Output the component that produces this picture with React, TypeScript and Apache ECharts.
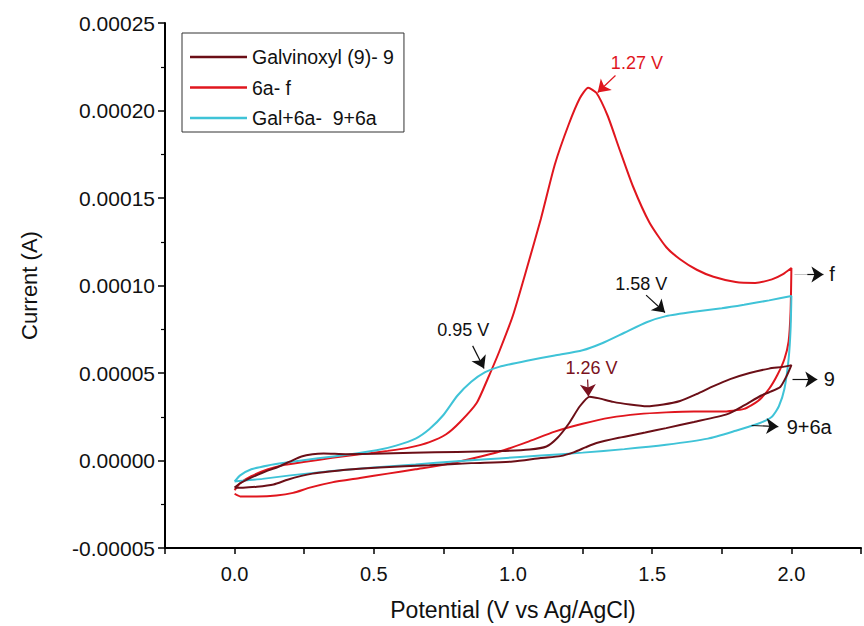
import React, { useEffect, useRef } from 'react';
import * as echarts from 'echarts';

// ---------- Data ----------
const seriesNames = ['Galvinoxyl (9)- 9', '6a- f', 'Gal+6a-  9+6a'];

// Galvinoxyl (9): forward scan 0 -> 2.0 V, then reverse 2.0 -> 0 V
const galPotential = [
  0.0, 0.02, 0.05, 0.1, 0.16, 0.2, 0.24, 0.28, 0.32, 0.4, 0.5, 0.64, 0.8, 0.95, 1.06, 1.12, 1.16, 1.2, 1.24, 1.275,
  1.31, 1.36, 1.42, 1.48, 1.54, 1.6, 1.66, 1.72, 1.78, 1.85, 1.92, 1.97, 2.0,
  1.985, 1.96, 1.92, 1.89, 1.83, 1.77, 1.65, 1.55, 1.475, 1.38, 1.3, 1.26, 1.22, 1.17, 1.1, 1.0, 0.85, 0.7, 0.52,
  0.4, 0.34, 0.28, 0.24, 0.19, 0.14, 0.08, 0.03, 0.0,
];
const galCurrent = [
  -1.55e-5, -1.3e-5, -1.05e-5, -7e-6, -3.4e-6, -5e-7, 2.3e-6, 3.6e-6, 4e-6, 3.6e-6, 3.8e-6, 4.4e-6, 4.9e-6, 5.4e-6, 6.3e-6, 8e-6, 1.3e-5, 2.1e-5, 3.1e-5, 3.65e-5,
  3.55e-5, 3.35e-5, 3.2e-5, 3.1e-5, 3.2e-5, 3.4e-5, 3.8e-5, 4.25e-5, 4.65e-5, 5.0e-5, 5.25e-5, 5.35e-5, 5.45e-5,
  4.9e-5, 4.2e-5, 3.9e-5, 3.7e-5, 3.15e-5, 2.65e-5, 2.2e-5, 1.85e-5, 1.6e-5, 1.3e-5, 1.0e-5, 7.5e-6, 4.8e-6, 2.5e-6, 1.4e-6, -6e-7, -1.5e-6, -2.7e-6, -4e-6,
  -5.3e-6, -6.3e-6, -7.5e-6, -8.8e-6, -1.1e-5, -1.37e-5, -1.5e-5, -1.55e-5, -1.55e-5,
];

// 6a: forward then reverse
const sixAPotential = [
  0.0, 0.02, 0.06, 0.12, 0.18, 0.26, 0.35, 0.45, 0.55, 0.63, 0.7, 0.76, 0.81, 0.87, 0.91, 0.95, 1.0, 1.05, 1.1, 1.15,
  1.2, 1.24, 1.27, 1.3, 1.34, 1.38, 1.43, 1.49, 1.55, 1.6, 1.66, 1.72, 1.8, 1.87, 1.93, 1.97, 2.0,
  1.997, 1.99, 1.975, 1.95, 1.92, 1.88, 1.83, 1.75, 1.65, 1.55, 1.45, 1.35, 1.25, 1.15, 1.05, 0.95, 0.85, 0.75, 0.65,
  0.55, 0.45, 0.35, 0.27, 0.21, 0.15, 0.08, 0.02, 0.0,
];
const sixACurrent = [
  -1.7e-5, -1.3e-5, -9e-6, -5e-6, -2.5e-6, -6e-7, 1.5e-6, 3.5e-6, 5.5e-6, 7.5e-6, 1.05e-5, 1.5e-5, 2.2e-5, 3.3e-5, 4.7e-5, 6.2e-5, 8.3e-5, 1.1e-4, 1.38e-4, 1.69e-4,
  1.92e-4, 2.07e-4, 2.13e-4, 2.1e-4, 1.97e-4, 1.79e-4, 1.57e-4, 1.36e-4, 1.22e-4, 1.15e-4, 1.09e-4, 1.05e-4, 1.02e-4, 1.015e-4, 1.035e-4, 1.065e-4, 1.1e-4,
  8.5e-5, 6.8e-5, 5.8e-5, 4.9e-5, 4.1e-5, 3.4e-5, 2.95e-5, 2.8e-5, 2.8e-5, 2.75e-5, 2.65e-5, 2.45e-5, 2.1e-5, 1.65e-5, 1.05e-5, 5e-6, 1e-6, -2.5e-6, -5e-6,
  -7.5e-6, -1e-5, -1.25e-5, -1.55e-5, -1.85e-5, -2.0e-5, -2.05e-5, -2.05e-5, -1.9e-5,
];

// Gal + 6a: forward then reverse
const mixPotential = [
  0.0, 0.02, 0.06, 0.12, 0.18, 0.3, 0.41, 0.51, 0.58, 0.65, 0.7, 0.75, 0.8, 0.85, 0.9, 0.95, 1.05, 1.15, 1.25, 1.32,
  1.4, 1.48, 1.55, 1.65, 1.75, 1.83, 1.92, 2.0,
  1.997, 1.99, 1.975, 1.955, 1.93, 1.88, 1.8, 1.7, 1.55, 1.4, 1.25, 1.1, 0.95, 0.8, 0.65, 0.5, 0.35, 0.2, 0.1, 0.03, 0.0,
];
const mixCurrent = [
  -1.2e-5, -8.5e-6, -5e-6, -2.8e-6, -1.3e-6, 1.3e-6, 3.4e-6, 5.8e-6, 8.5e-6, 1.25e-5, 1.8e-5, 2.6e-5, 3.7e-5, 4.5e-5, 5.05e-5, 5.35e-5, 5.7e-5, 6.0e-5, 6.3e-5, 6.7e-5,
  7.3e-5, 7.9e-5, 8.25e-5, 8.5e-5, 8.7e-5, 8.9e-5, 9.15e-5, 9.4e-5,
  7.5e-5, 5.8e-5, 4.1e-5, 3.1e-5, 2.5e-5, 2.1e-5, 1.7e-5, 1.25e-5, 9e-6, 6.5e-6, 4.5e-6, 2.8e-6, 1.2e-6, -4e-7, -2.3e-6, -4e-6, -6e-6, -8.5e-6, -1.05e-5, -1.15e-5, -1.2e-5,
];

// Annotations (data coordinates)
const annotationTexts = ['1.27 V', '1.26 V', '0.95 V', '1.58 V', 'f', '9', '9+6a'];
const annotationPoints = [
  [1.445, 2.274e-4], [1.282, 5.26e-5], [0.821, 7.43e-5], [1.461, 1.011e-4],
  [2.146, 1.063e-4], [2.136, 4.63e-5], [2.064, 1.94e-5],
];
const annotationKinds = ['red', 'dark', 'black', 'black', 'black', 'black', 'black'];
const arrowSegments = [
  [[1.368, 2.2e-4], [1.304, 2.103e-4]],
  [[1.268, 4.63e-5], [1.271, 3.66e-5]],
  [[0.855, 6.55e-5], [0.896, 5.26e-5]],
  [[1.478, 9.45e-5], [1.546, 8.46e-5]],
  [[2.057, 1.063e-4], [2.115, 1.063e-4]],
  [[2.004, 4.63e-5], [2.093, 4.63e-5]],
  [[1.857, 2.0e-5], [1.953, 1.94e-5]],
];
const arrowKinds = ['red', 'dark', 'black', 'black', 'black', 'black', 'black'];
const connectorSegments = [[[2.011, 1.063e-4], [2.057, 1.063e-4]]];

const xTickLabels = ['0.0', '0.5', '1.0', '1.5', '2.0'];

// ---------- Styling ----------
const FONT = "'Liberation Sans', Arial, Helvetica, sans-serif";
const COLORS = ['#6b0f17', '#e0161e', '#3fc3d7'];
const KIND_COLOR: Record<string, string> = { red: '#e0161e', dark: '#7a1220', black: '#111111' };

const pairs = (xs: number[], ys: number[]) => xs.map((x, i) => [x, ys[i]]);

export default function App() {
  const ref = useRef<HTMLDivElement>(null);

  useEffect(() => {
    if (!ref.current) return;
    const chart = echarts.init(ref.current, undefined, { renderer: 'svg' });

    const curves = [
      pairs(galPotential, galCurrent),
      pairs(sixAPotential, sixACurrent),
      pairs(mixPotential, mixCurrent),
    ];

    const option: any = {
      animation: false,
      backgroundColor: '#ffffff',
      grid: { left: 165, top: 23, right: -3, bottom: 78, containLabel: false },
      legend: {
        data: seriesNames.map((n) => ({ name: n, icon: 'rect' })),
        orient: 'vertical',
        left: 182,
        top: 33,
        padding: [14, 10, 4, 8],
        itemWidth: 57,
        itemHeight: 2.5,
        itemGap: 10.5,
        borderColor: '#333',
        borderWidth: 1,
        textStyle: { fontSize: 19.5, fontFamily: FONT, color: '#111', lineHeight: 20, padding: [0, 0, 0, 0] },
      },
      xAxis: {
        type: 'value',
        min: -0.25,
        max: 2.25,
        interval: 0.25,
        name: 'Potential (V vs Ag/AgCl)',
        nameLocation: 'middle',
        nameGap: 50,
        nameTextStyle: { fontSize: 23, fontFamily: FONT, color: '#111' },
        axisLine: { show: true, onZero: false, lineStyle: { color: '#000', width: 2 } },
        axisTick: { show: true, inside: false, length: 6, lineStyle: { color: '#000', width: 1.5 } },
        axisLabel: {
          margin: 16,
          fontSize: 20,
          fontFamily: FONT,
          color: '#111',
          showMinLabel: true,
          showMaxLabel: true,
          formatter: (v: number) => {
            const s = v.toFixed(1);
            return xTickLabels.includes(s) && Math.abs(v * 2 - Math.round(v * 2)) < 1e-6 ? s : '';
          },
        },
        splitLine: { show: false },
      },
      yAxis: {
        type: 'value',
        min: -0.00005,
        max: 0.00025,
        interval: 0.00005,
        name: 'Current (A)',
        nameLocation: 'middle',
        nameRotate: 90,
        nameGap: 125,
        nameTextStyle: { fontSize: 22, fontFamily: FONT, color: '#111' },
        axisLine: { show: true, onZero: false, lineStyle: { color: '#000', width: 2 } },
        axisTick: { show: true, inside: false, length: 7, lineStyle: { color: '#000', width: 1.5 } },
        minorTick: { show: true, splitNumber: 2, length: 4, lineStyle: { color: '#000', width: 1.2 } },
        axisLabel: {
          margin: 10,
          fontSize: 21,
          fontFamily: FONT,
          color: '#111',
          formatter: (v: number) => (Math.abs(v) < 1e-12 ? '0.00000' : v.toFixed(5)),
        },
        splitLine: { show: false },
        minorSplitLine: { show: false },
      },
      series: [
        ...curves.map((d, i) => ({
          name: seriesNames[i],
          type: 'line',
          data: d,
          symbol: 'none',
          showSymbol: false,
          smooth: 0.2,
          lineStyle: { color: COLORS[i], width: 2 },
          itemStyle: { color: COLORS[i] },
          z: i === 1 ? 2 : i === 0 ? 4 : 3,
          silent: true,
        })),
        {
          name: 'connectors',
          type: 'lines',
          coordinateSystem: 'cartesian2d',
          silent: true,
          symbol: ['none', 'none'],
          lineStyle: { color: '#c4c4c4', width: 1, opacity: 1 },
          data: connectorSegments.map((c) => ({ coords: c })),
          z: 5,
        },
        {
          name: 'arrows',
          type: 'lines',
          coordinateSystem: 'cartesian2d',
          silent: true,
          symbol: ['none', 'arrow'],
          symbolSize: 12,
          data: arrowSegments.map((c, i) => ({
            coords: c,
            lineStyle: { color: KIND_COLOR[arrowKinds[i]], width: 1.2, opacity: 1 },
          })),
          lineStyle: { width: 1.2, opacity: 1 },
          z: 6,
        },
        {
          name: 'annotations',
          type: 'scatter',
          silent: true,
          symbolSize: 0,
          itemStyle: { opacity: 1 },
          data: annotationPoints.map((p, i) => ({
            value: p,
            label: {
              show: true,
              position: 'inside',
              formatter: annotationTexts[i],
              color: KIND_COLOR[annotationKinds[i]],
              textBorderWidth: 0,
              opacity: 1,
              fontSize: i >= 4 ? 20 : 18,
              fontFamily: FONT,
            },
          })),
          z: 7,
        },
      ],
    };

    chart.setOption(option);
    return () => chart.dispose();
  }, []);

  return (
    <div
      ref={ref}
      style={{ position: 'fixed', left: 0, top: 0, width: 864, height: 626, background: '#fff' }}
    />
  );
}
